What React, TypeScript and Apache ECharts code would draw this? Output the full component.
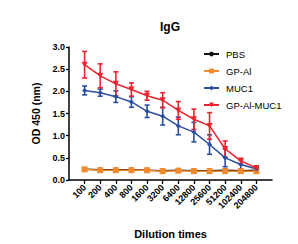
import React, { useEffect, useRef } from "react";
import * as echarts from "echarts";

const categories = ["100", "200", "400", "800", "1600", "3200", "6400", "12800", "25600", "51200", "102400", "204800"];
const pbs = [0.24, 0.23, 0.23, 0.23, 0.22, 0.21, 0.22, 0.21, 0.21, 0.22, 0.21, 0.22];
const gpAl = [0.24, 0.22, 0.22, 0.22, 0.22, 0.2, 0.21, 0.2, 0.2, 0.2, 0.2, 0.2];
const gpAlErr = [0.02, 0.02, 0.02, 0.02, 0.02, 0.02, 0.02, 0.02, 0.02, 0.02, 0.02, 0.02];
const muc1 = [2.02, 1.97, 1.88, 1.76, 1.55, 1.44, 1.22, 1.08, 0.8, 0.5, 0.35, 0.25];
const muc1Err = [0.1, 0.08, 0.13, 0.12, 0.14, 0.2, 0.2, 0.22, 0.22, 0.2, 0.1, 0.03];
const gpAlMuc1 = [2.6, 2.35, 2.17, 2.04, 1.9, 1.8, 1.57, 1.37, 1.22, 0.7, 0.43, 0.27];
const gpAlMuc1Err = [0.3, 0.27, 0.27, 0.15, 0.1, 0.17, 0.2, 0.23, 0.3, 0.18, 0.06, 0.03];
const yTicks = [0, 0.5, 1, 1.5, 2, 2.5, 3];

const COLORS = { pbs: "#111111", gpAl: "#f28a2e", muc1: "#2b4ea2", gpAlMuc1: "#e8262f" };
const FONT = "Liberation Sans, Arial, sans-serif";

function errorSeries(name: string, vals: number[], errs: number[], color: string) {
  return {
    type: "custom",
    name: name + "-err",
    silent: true,
    data: vals.map((v, i) => [i + 1, v - errs[i], v + errs[i]]),
    renderItem: (params: any, api: any) => {
      const x = api.value(0);
      const lo = api.coord([x, api.value(1)]);
      const hi = api.coord([x, api.value(2)]);
      const w = 2.5;
      const style = { stroke: color, lineWidth: 1.6 };
      return {
        type: "group",
        children: [
          { type: "line", shape: { x1: lo[0], y1: lo[1], x2: hi[0], y2: hi[1] }, style },
          { type: "line", shape: { x1: lo[0] - w, y1: lo[1], x2: lo[0] + w, y2: lo[1] }, style },
          { type: "line", shape: { x1: hi[0] - w, y1: hi[1], x2: hi[0] + w, y2: hi[1] }, style },
        ],
      };
    },
    z: 3,
  };
}

function lineSeries(name: string, vals: number[], color: string, symbol: string, size: number, rot = 0) {
  return {
    type: "line",
    name,
    data: vals.map((v, i) => [i + 1, v]),
    symbol,
    symbolSize: size,
    symbolRotate: rot,
    itemStyle: { color },
    lineStyle: { color, width: 1.5 },
    z: 4,
  };
}

export default function App() {
  const ref = useRef<HTMLDivElement>(null);
  useEffect(() => {
    if (!ref.current) return;
    const chart = echarts.init(ref.current, null, { renderer: "svg" });
    const xData = ["", ...categories, ""];
    chart.setOption({
      animation: false,
      backgroundColor: "#ffffff",
      textStyle: { fontFamily: FONT },
      grid: { left: 69, right: 26, top: 47, bottom: 62, containLabel: false },
      graphic: [
        {
          type: "text",
          x: 170,
          y: 27,
          style: {
            text: "IgG",
            fontFamily: FONT,
            fontWeight: "bold",
            fontSize: 12,
            fill: "#000",
            textAlign: "center",
            textVerticalAlign: "middle",
          },
        },
      ],
      legend: {
        orient: "vertical",
        left: 198,
        top: 44,
        itemWidth: 15,
        itemHeight: 6,
        itemGap: 7,
        data: ["PBS", "GP-Al", "MUC1", "GP-Al-MUC1"],
        textStyle: { fontFamily: FONT, fontSize: 9.5, color: "#000", padding: [0, 0, 0, 2] },
      },
      xAxis: {
        type: "category",
        data: xData,
        boundaryGap: false,
        name: "Dilution times",
        nameLocation: "middle",
        nameGap: 48,
        nameTextStyle: { fontFamily: FONT, fontWeight: "bold", fontSize: 11, color: "#000" },
        axisLine: { lineStyle: { color: "#000", width: 1.5 } },
        axisTick: {
          length: 4,
          lineStyle: { color: "#000", width: 1.3 },
          interval: (i: number) => i > 0 && i < xData.length - 1,
        },
        axisLabel: {
          interval: 0,
          rotate: 45,
          margin: 6,
          fontFamily: FONT,
          fontWeight: "bold",
          fontSize: 9,
          color: "#000",
        },
        splitLine: { show: false },
      },
      yAxis: {
        type: "value",
        min: yTicks[0],
        max: yTicks[yTicks.length - 1],
        interval: 0.5,
        name: "OD 450 (nm)",
        nameLocation: "middle",
        nameGap: 27,
        nameTextStyle: { fontFamily: FONT, fontWeight: "bold", fontSize: 10.5, color: "#000" },
        axisLine: { show: true, lineStyle: { color: "#000", width: 1.5 } },
        axisTick: { show: true, length: 3, lineStyle: { color: "#000", width: 1.3 } },
        axisLabel: {
          margin: 4,
          fontFamily: FONT,
          fontWeight: "bold",
          fontSize: 9,
          color: "#000",
          formatter: (v: number) => v.toFixed(1),
        },
        splitLine: { show: false },
      },
      series: [
        lineSeries("PBS", pbs, COLORS.pbs, "circle", 5),
        lineSeries("GP-Al", gpAl, COLORS.gpAl, "rect", 6),
        errorSeries("GP-Al", gpAl, gpAlErr, COLORS.gpAl),
        errorSeries("MUC1", muc1, muc1Err, COLORS.muc1),
        lineSeries("MUC1", muc1, COLORS.muc1, "diamond", 5),
        errorSeries("GP-Al-MUC1", gpAlMuc1, gpAlMuc1Err, COLORS.gpAlMuc1),
        lineSeries("GP-Al-MUC1", gpAlMuc1, COLORS.gpAlMuc1, "triangle", 6, 180),
      ],
    });
    return () => chart.dispose();
  }, []);
  return (
    <div
      ref={ref}
      style={{ position: "fixed", left: 0, top: 0, width: 298, height: 244, background: "#fff" }}
    />
  );
}
